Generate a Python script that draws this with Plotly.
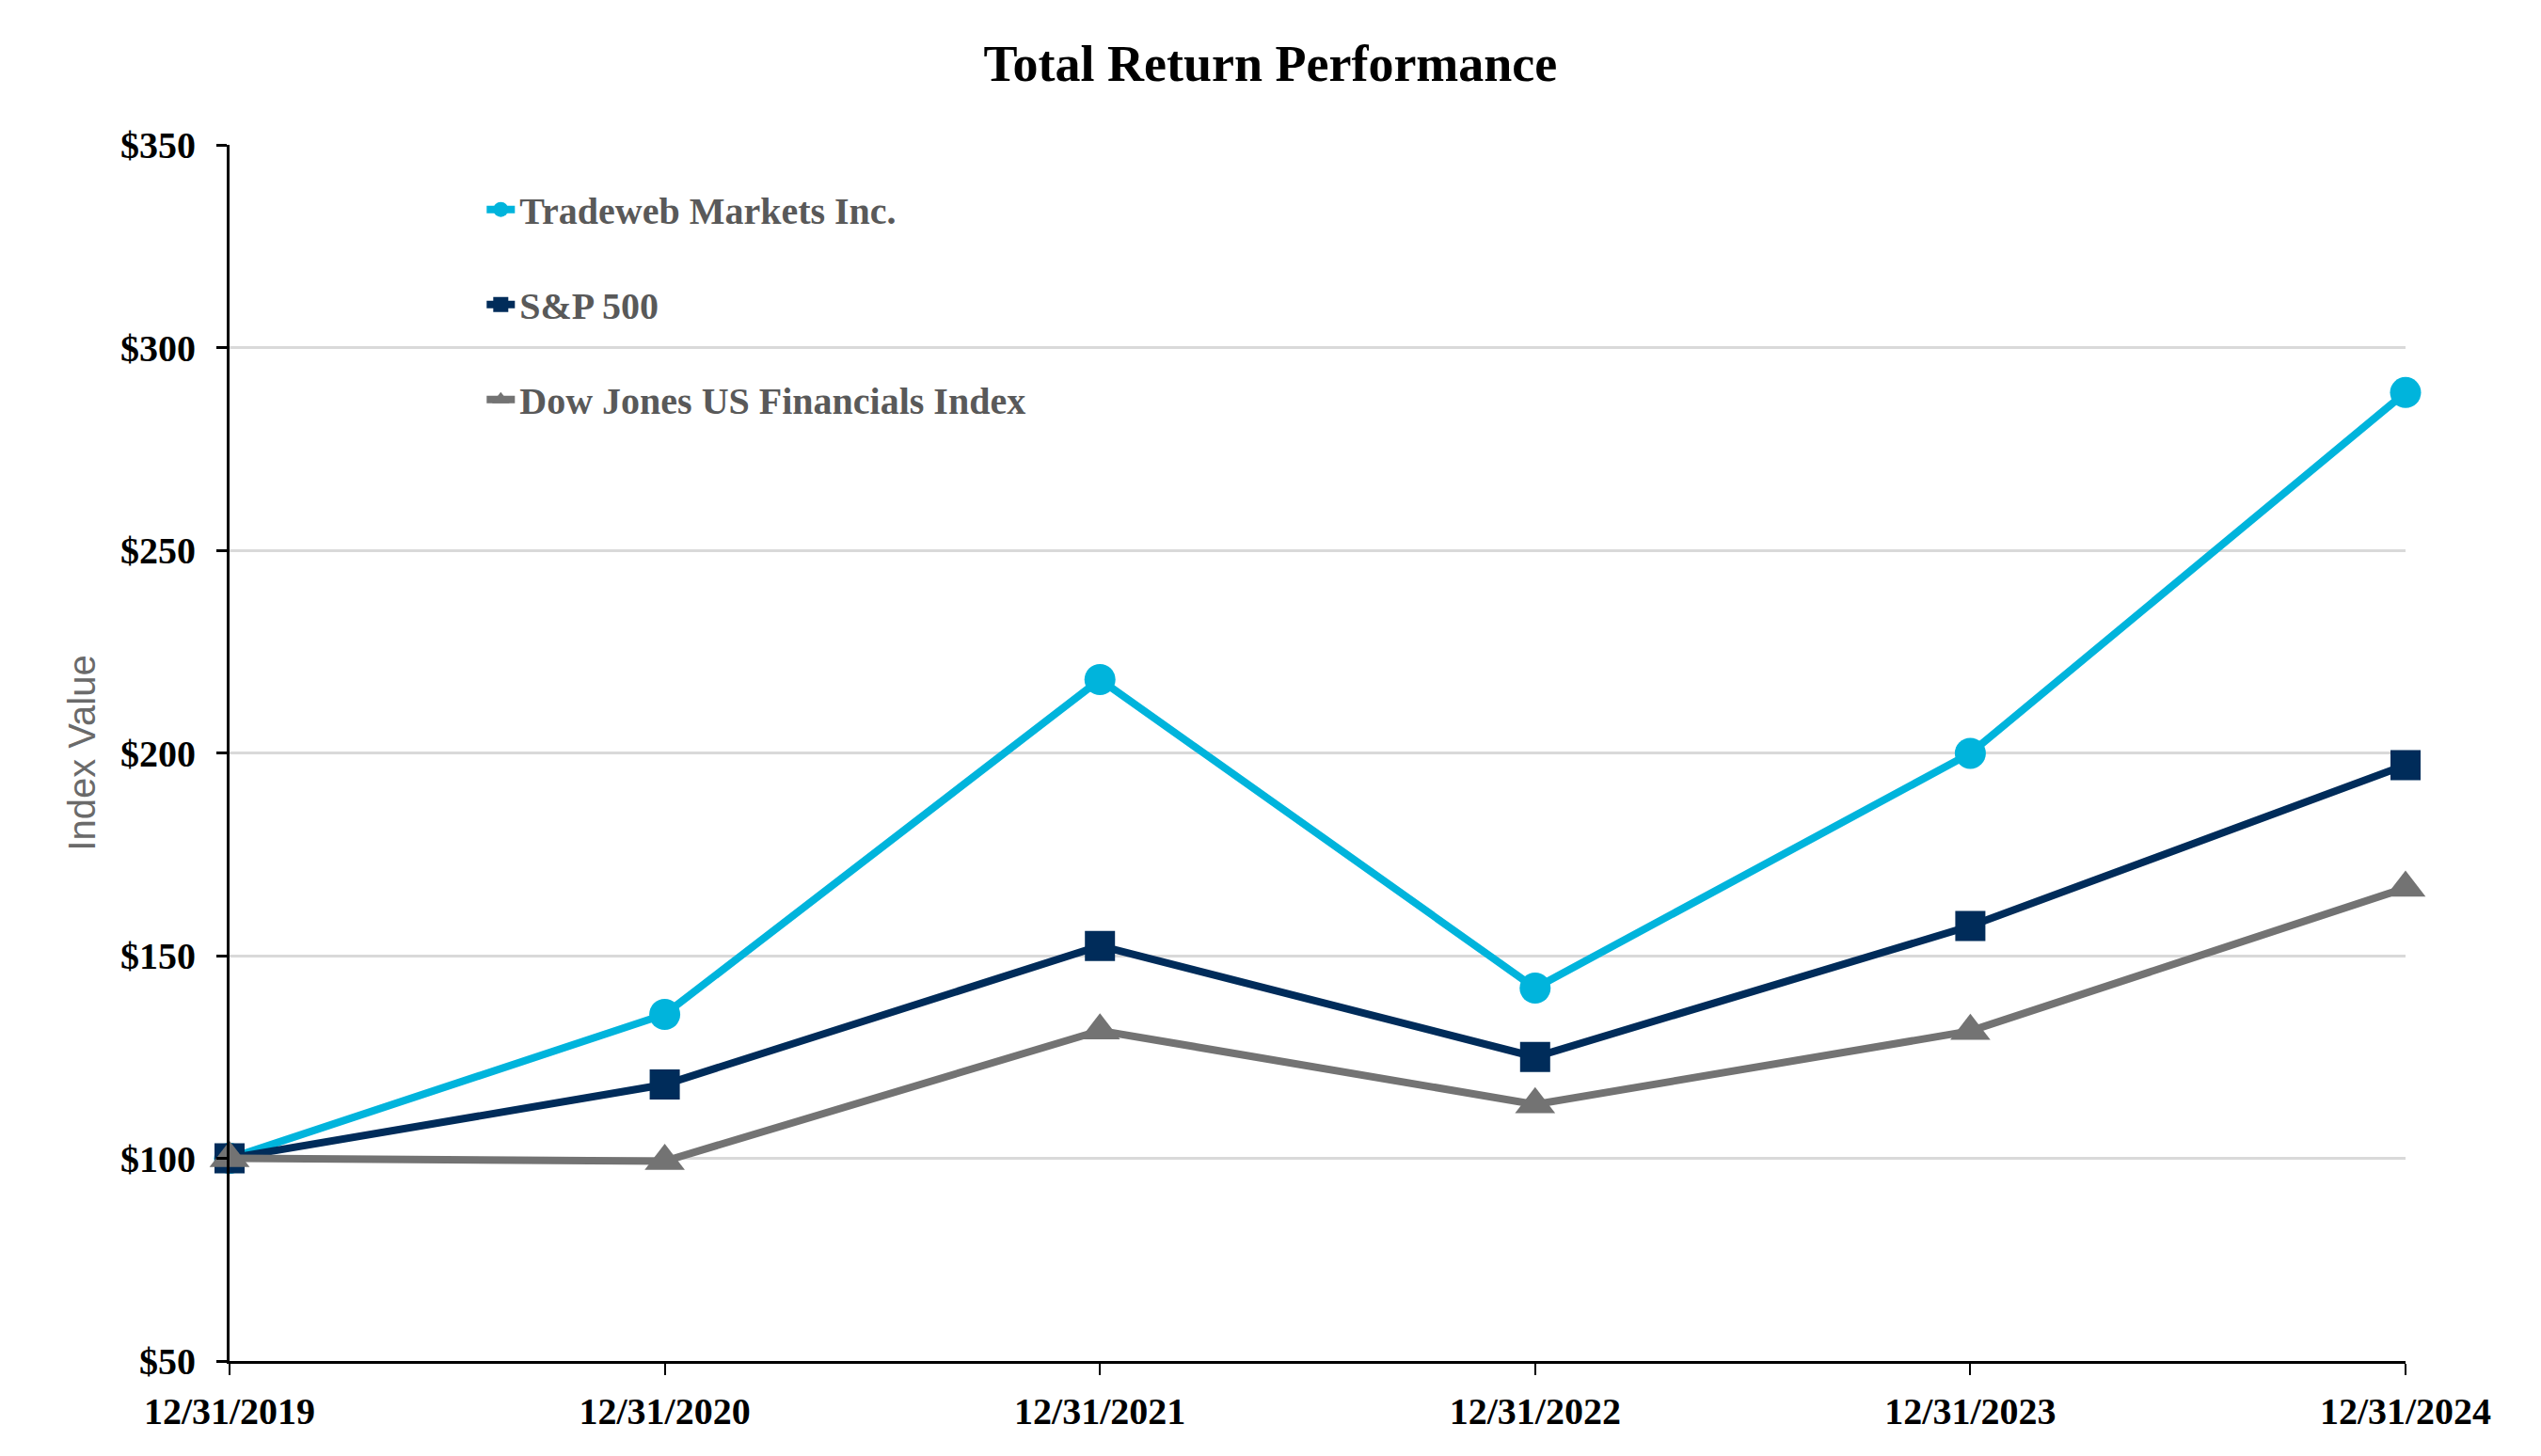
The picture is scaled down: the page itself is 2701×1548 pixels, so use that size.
import plotly.graph_objects as go


##########
# Inputs #
##########

dates = ["12/31/2019", "12/31/2020", "12/31/2021", "12/31/2022", "12/31/2023", "12/31/2024"]

tradeweb_values = [100.0, 135.5, 218.1, 142.0, 199.9, 288.9]
sp500_values = [100.0, 118.2, 152.4, 125.0, 157.3, 197.0]
dow_jones_values = [100.0, 99.3, 131.5, 113.3, 131.4, 166.7]

series_names = ["Tradeweb Markets Inc.", "S&P 500", "Dow Jones US Financials Index"]
series_values = [tradeweb_values, sp500_values, dow_jones_values]
series_colours = ["#00B4DC", "#002C5A", "#737373"]
series_symbols = ["circle", "square", "triangle-up"]
series_marker_sizes = [33, 32, 37]

y_ticks = [50, 100, 150, 200, 250, 300, 350]
y_tick_labels = ["$" + str(tick) for tick in y_ticks]

plot_title = "Total Return Performance"
y_axis_title = "Index Value"

serif_font = "Liberation Serif, Times New Roman, serif"
sans_font = "Liberation Sans, Arial, sans-serif"


################
# Prepare data #
################

plot_data = []

for i, (name, values) in enumerate(zip(series_names, series_values)):
    plot_data += [
        go.Scatter(
            x=dates,
            y=values,
            name=name,
            mode="lines+markers",
            line={"color": series_colours[i], "width": 8},
            marker={
                "symbol": series_symbols[i],
                "size": series_marker_sizes[i],
                "color": series_colours[i]
            },
            legendgroup=name,
            cliponaxis=False
        )
    ]


#################
# Create layout #
#################

# the page adds an 8px body margin, so margins are shifted to compensate
plot_layout = go.Layout(
    width=2701,
    height=1548,
    plot_bgcolor="white",
    paper_bgcolor="white",
    margin={"l": 236, "r": 152, "t": 146, "b": 109},
    title={
        "text": plot_title,
        "font": {"family": serif_font, "size": 54, "color": "black", "weight": "bold"},
        "x": 0.497,
        "xanchor": "center",
        "y": 0.962,
        "yanchor": "middle"
    },
    xaxis={
        "type": "category",
        "range": [0, len(dates) - 1],
        "showgrid": False,
        "showline": True,
        "linecolor": "black",
        "linewidth": 3,
        "ticks": "outside",
        "ticklen": 12,
        "tickwidth": 2,
        "tickcolor": "black",
        "tickfont": {"family": serif_font, "size": 40, "color": "black", "weight": "bold"},
        "ticklabelstandoff": 4,
        "zeroline": False
    },
    yaxis={
        "range": [y_ticks[0], y_ticks[-1]],
        "tickmode": "array",
        "tickvals": y_ticks,
        "ticktext": y_tick_labels,
        "showgrid": True,
        "gridcolor": "#D9D9D9",
        "gridwidth": 2.5,
        "showline": True,
        "linecolor": "black",
        "linewidth": 3,
        "ticks": "outside",
        "ticklen": 11,
        "tickwidth": 3,
        "tickcolor": "black",
        "tickfont": {"family": serif_font, "size": 40, "color": "black", "weight": "bold"},
        "ticklabelstandoff": 14,
        "zeroline": False,
        "title": {
            "text": y_axis_title,
            "font": {"family": sans_font, "size": 40, "color": "#6a6a6a"},
            "standoff": 15
        }
    },
    showlegend=True,
    legend={
        "x": 0.116,
        "xanchor": "left",
        "y": 0.972,
        "yanchor": "top",
        "bgcolor": "rgba(0,0,0,0)",
        "font": {"family": serif_font, "size": 40, "color": "#595959", "weight": "bold"},
        "tracegroupgap": 46
    }
)


#############
# Save plot #
#############

figure = go.Figure(plot_data, plot_layout)
figure.write_html("out.html")
